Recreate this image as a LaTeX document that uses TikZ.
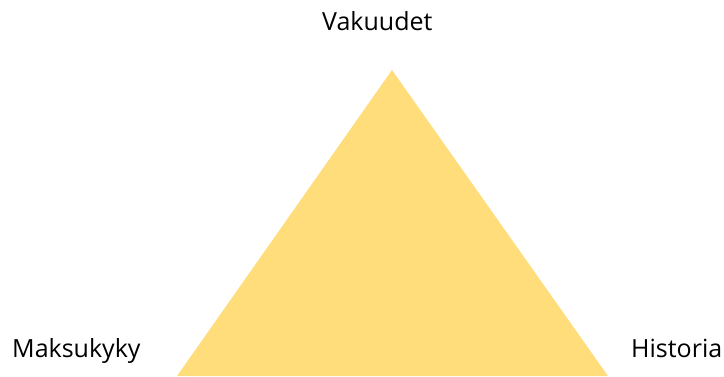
\documentclass[tikz,border=0pt]{standalone}
\usepackage{fontspec}
\setmainfont{Open Sans}
\definecolor{tri}{HTML}{FFDD7B}
\begin{document}
\begin{tikzpicture}[x=1pt,y=-1pt,
  lbl/.style={inner sep=0pt,anchor=base west,font=\fontsize{25}{30}\selectfont}]
\useasboundingbox (0,0) rectangle (724,376);
\coordinate (apex) at (392,70);
\coordinate (bl) at (177,376);
\coordinate (br) at (608,376);
\fill[tri] (apex) -- (bl) -- (br) -- cycle;
\node[lbl] (v) at (322,30) {Vakuudet};
\node[lbl] (m) at (12,357) {Maksukyky};
\node[lbl] (h) at (631,357) {Historia};
\end{tikzpicture}
\end{document}
